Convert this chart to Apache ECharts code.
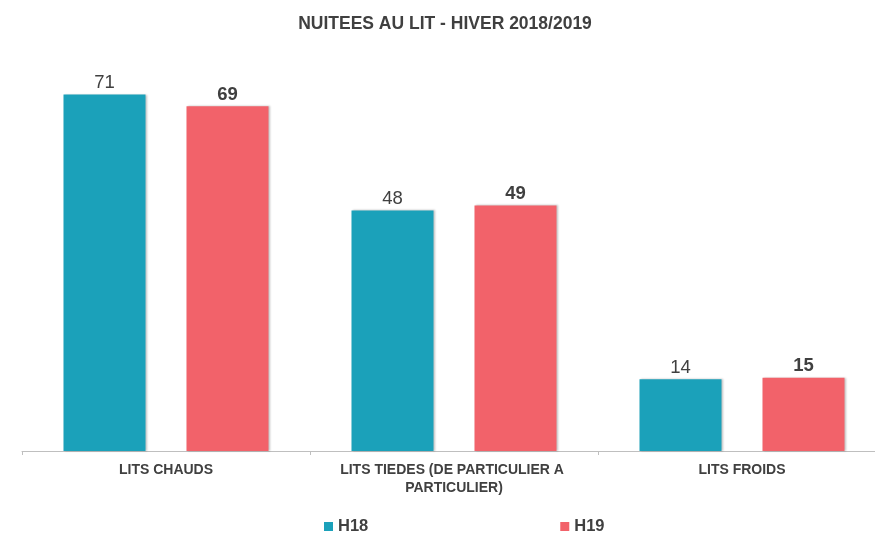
<!DOCTYPE html>
<html>
<head>
<meta charset="utf-8">
<script src="https://cdn.jsdelivr.net/npm/echarts@6/dist/echarts.min.js"></script>
<style>
	html, body { margin: 0; padding: 0; background: #fff; overflow: hidden; }
	#chart { width: 886px; height: 535px; }
</style>
</head>
<body>
<div id="chart"></div>
<script>
var categories = ['LITS CHAUDS', 'LITS TIEDES (DE PARTICULIER A PARTICULIER)', 'LITS FROIDS'];
var seriesNames = ['H18', 'H19'];
var h18 = [71.1, 48, 14.3];
var h19 = [68.8, 49, 14.6];

var textColor = '#404040';
var barShadow = {
	shadowColor: 'rgba(0,0,0,0.25)',
	shadowBlur: 2,
	shadowOffsetX: 1,
	shadowOffsetY: 0
};

function roundLabel(p) {
	return Math.round(p.value);
}

// the plot runs a little past the right edge of the 875px window, as in the original
var myChart = echarts.init(document.getElementById('chart'));
var option = {
	animation: false,
	textStyle: { fontFamily: 'Liberation Sans, Arial, sans-serif' },
	title: {
		text: 'NUITEES AU LIT - HIVER 2018/2019',
		left: 440,
		textAlign: 'center',
		top: 10,
		textStyle: { fontSize: 17.5, fontWeight: 'bold', color: textColor }
	},
	legend: {
		data: seriesNames,
		left: 319,
		top: 513,
		itemWidth: 9,
		itemHeight: 9,
		itemGap: 192,
		icon: 'rect',
		textStyle: { fontSize: 16.5, fontWeight: 'bold', color: textColor }
	},
	grid: {
		left: 22,
		right: 0,
		top: 50,
		bottom: 84
	},
	xAxis: {
		type: 'category',
		data: categories,
		axisLine: { lineStyle: { color: '#bfbfbf', width: 1 } },
		axisTick: { show: true, length: 4, lineStyle: { color: '#bfbfbf' } },
		axisLabel: {
			interval: 0,
			margin: 10,
			fontSize: 14,
			fontWeight: 'bold',
			color: textColor,
			width: 250,
			overflow: 'break',
			lineHeight: 18
		}
	},
	yAxis: {
		type: 'value',
		min: 0,
		max: 80,
		show: false,
		splitLine: { show: false }
	},
	series: [{
		name: 'H18',
		type: 'bar',
		data: h18,
		barWidth: 82,
		barGap: '50%',
		itemStyle: Object.assign({ color: '#1ba1ba' }, barShadow),
		label: {
			show: true,
			position: 'top',
			distance: 2,
			fontSize: 18.5,
			color: textColor,
			formatter: roundLabel
		}
	}, {
		name: 'H19',
		type: 'bar',
		data: h19,
		barWidth: 82,
		itemStyle: Object.assign({ color: '#f2626a' }, barShadow),
		label: {
			show: true,
			position: 'top',
			distance: 2,
			fontSize: 18.5,
			fontWeight: 'bold',
			color: textColor,
			formatter: roundLabel
		}
	}]
};
myChart.setOption(option);
</script>
</body>
</html>
